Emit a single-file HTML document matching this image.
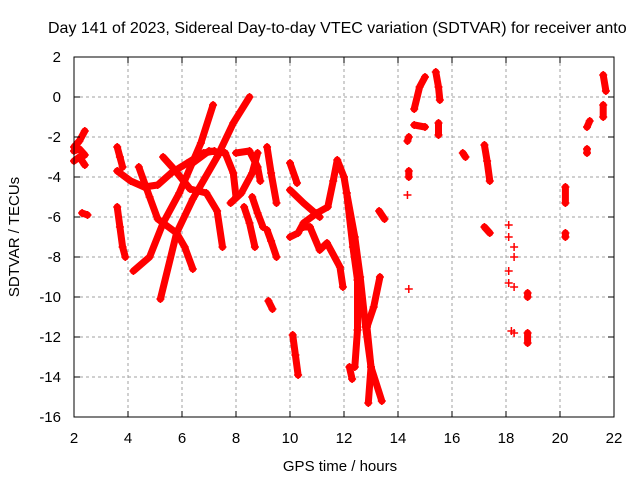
<!DOCTYPE html>
<html><head><meta charset="utf-8"><style>
body{margin:0;background:#fff;}
svg{display:block;font-family:"Liberation Sans","DejaVu Sans",sans-serif;}
</style></head><body>
<svg id="chart" width="640" height="480" viewBox="0 0 640 480" xmlns="http://www.w3.org/2000/svg">
<rect width="640" height="480" fill="#fff"/>
<text x="48" y="33" font-size="16" fill="#000">Day 141 of 2023, Sidereal Day-to-day VTEC variation (SDTVAR) for receiver anto</text>
<g id="grid"></g>
<g id="marks"></g>
<rect x="74" y="57" width="540" height="360" fill="none" stroke="#000" stroke-width="1"/>
<g id="axes"></g>
<text x="340" y="471" font-size="15" text-anchor="middle">GPS time / hours</text>
<text transform="translate(19,237) rotate(-90)" font-size="15" text-anchor="middle">SDTVAR / TECUs</text>
</svg>
<script>
const xTicks=[2,4,6,8,10,12,14,16,18,20,22];
const yTicks=[2,0,-2,-4,-6,-8,-10,-12,-14,-16];
// each track: list of [hour, TECU]
const tracks=[
 [[2.0,-2.5],[2.2,-2.2],[2.4,-1.7]],
 [[2.0,-3.2],[2.2,-3.0],[2.4,-3.4]],
 [[2.0,-2.7],[2.2,-2.6],[2.4,-2.9]],
 [[2.3,-5.8],[2.5,-5.9]],
 [[3.6,-2.5],[3.7,-3.0],[3.8,-3.5]],
 [[3.6,-5.5],[3.7,-6.5],[3.8,-7.5],[3.9,-8.0]],
 [[4.2,-8.7],[4.8,-8.0],[5.3,-6.3],[5.9,-4.8],[6.7,-2.3],[7.15,-0.4]],
 [[5.2,-10.1],[5.8,-6.8],[6.4,-5.1],[7.3,-3.0],[7.9,-1.3],[8.5,0.0]],
 [[4.4,-3.5],[4.8,-5.0],[5.1,-6.1],[5.8,-6.8],[6.1,-7.5],[6.4,-8.6]],
 [[3.6,-3.7],[4.1,-4.2],[4.6,-4.5],[5.1,-4.4],[5.6,-3.8],[6.2,-3.3],[6.8,-2.8],[7.2,-2.7]],
 [[5.3,-3.0],[5.7,-3.6],[6.3,-4.6],[6.9,-4.8],[7.3,-5.7],[7.5,-7.5]],
 [[6.3,-3.4],[7.0,-2.7],[7.6,-2.8],[7.9,-3.8],[8.0,-5.0]],
 [[7.8,-5.3],[8.2,-4.8],[8.6,-3.8],[8.8,-2.8]],
 [[8.0,-2.8],[8.5,-2.7],[8.8,-3.5],[8.9,-4.2]],
 [[8.3,-5.5],[8.5,-6.3],[8.7,-7.5]],
 [[8.6,-5.0],[8.8,-5.8],[9.0,-6.5]],
 [[9.15,-2.5],[9.3,-3.8],[9.5,-5.3]],
 [[9.15,-6.65],[9.3,-7.2],[9.5,-8.0]],
 [[10.0,-3.3],[10.26,-4.3]],
 [[10.0,-4.65],[10.5,-5.3],[11.1,-6.0]],
 [[10.0,-7.0],[10.3,-6.8],[10.5,-6.3],[11.0,-5.8],[11.4,-5.5],[11.6,-4.2],[11.75,-3.15],[12.0,-4.0],[12.1,-4.8],[12.33,-7.5],[12.5,-9.15],[12.5,-11.65],[12.4,-13.5]],
 [[10.5,-6.5],[10.74,-6.5],[11.1,-7.65],[11.37,-7.3],[11.85,-8.5],[11.96,-9.5]],
 [[12.1,-4.8],[12.4,-7.0],[12.6,-9.0],[12.8,-11.5],[13.0,-13.5],[13.4,-15.2]],
 [[12.2,-13.5],[12.3,-14.1]],
 [[12.9,-15.3],[13.0,-13.5],[12.85,-11.5],[13.1,-10.5],[13.33,-9.0]],
 [[13.3,-5.7],[13.5,-6.1]],
 [[9.2,-10.2],[9.35,-10.6]],
 [[10.1,-11.9],[10.2,-12.9],[10.3,-13.9]],
 [[14.4,-2.0],[14.35,-2.2]],
 [[14.4,-3.7],[14.4,-4.0]],
 [[14.35,-4.9]],
 [[14.4,-9.6]],
 [[14.6,-0.6],[14.8,0.5],[15.0,1.0]],
 [[14.6,-1.4],[15.0,-1.5]],
 [[15.4,1.25],[15.5,0.5],[15.55,-0.15]],
 [[15.5,-1.3],[15.5,-1.9]],
 [[16.4,-2.8],[16.5,-3.0]],
 [[17.2,-2.4],[17.3,-3.2],[17.4,-4.2]],
 [[17.2,-6.5],[17.4,-6.8]],
 [[18.1,-6.4]],[[18.1,-7.0]],[[18.3,-7.5]],[[18.3,-8.0]],[[18.1,-8.7]],[[18.1,-9.3]],[[18.3,-9.5]],
 [[18.2,-11.7]],[[18.3,-11.8]],
 [[18.8,-9.8],[18.8,-10.0]],
 [[18.8,-11.8],[18.8,-12.3]],
 [[20.2,-4.5],[20.2,-5.3]],
 [[20.2,-6.8],[20.2,-7.0]],
 [[21.0,-1.5],[21.1,-1.2]],
 [[21.0,-2.6],[21.0,-2.8]],
 [[21.6,1.1],[21.7,0.3]],
 [[21.6,-0.4],[21.6,-1.0]]
];
const NS="http://www.w3.org/2000/svg";
const X0=74,X1=614,Y0=57,Y1=417;
function sx(v){return X0+(v-2)/(22-2)*(X1-X0);}
function sy(v){return Y0+(2-v)/(2+16)*(Y1-Y0);}
function mk(tag,attrs,parent){const e=document.createElementNS(NS,tag);for(const k in attrs)e.setAttribute(k,attrs[k]);parent.appendChild(e);return e;}
const grid=document.getElementById('grid'),axes=document.getElementById('axes'),marks=document.getElementById('marks');
xTicks.forEach(t=>{
 const x=sx(t);
 if(t>2&&t<22){const g=mk('line',{x1:x,x2:x,y1:Y0,y2:Y1,stroke:'#a0a0a0','stroke-dasharray':'3,3'},grid);
 
 }
 mk('line',{x1:x,x2:x,y1:Y1,y2:Y1-6,stroke:'#000'},axes);
 mk('line',{x1:x,x2:x,y1:Y0,y2:Y0+6,stroke:'#000'},axes);
 const l=mk('text',{x:x,y:Y1+26,'font-size':15,'text-anchor':'middle'},axes);
 l.textContent=t;
 
 
});
yTicks.forEach(t=>{
 const y=sy(t);
 if(t<2&&t>-16){const g=mk('line',{x1:X0,x2:X1,y1:y,y2:y,stroke:'#a0a0a0','stroke-dasharray':'3,3'},grid);
 
 }
 mk('line',{x1:X0,x2:X0+6,y1:y,y2:y,stroke:'#000'},axes);
 mk('line',{x1:X1,x2:X1-6,y1:y,y2:y,stroke:'#000'},axes);
 const l=mk('text',{x:X0-13,y:y+5,'font-size':15,'text-anchor':'end'},axes);
 l.textContent=t;
 
 
});
tracks.forEach(tr=>{
 const g=mk('g',{},marks);
 
 
 if(tr.length>1){
  mk('polyline',{points:tr.map(p=>sx(p[0])+','+sy(p[1])).join(' '),fill:'none',stroke:'#f00','stroke-width':7,'stroke-linejoin':'round','stroke-linecap':'round'},g);
 }
 tr.forEach(p=>{
  const x=sx(p[0]),y=sy(p[1]);
  mk('path',{d:`M${x-4},${y}H${x+4}M${x},${y-4}V${y+4}`,stroke:'#f00','stroke-width':1.5},g);
 });
});
</script>
</body></html>
